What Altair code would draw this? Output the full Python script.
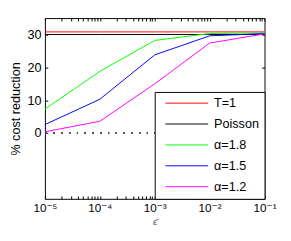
import altair as alt
import pandas as pd

eps = [1e-5, 1e-4, 1e-3, 1e-2, 1e-1]
series = ["T=1", "Poisson", "α=1.8", "α=1.5", "α=1.2"]
colors = ["#ff0000", "#000000", "#00ff00", "#0000ff", "#ff00ff"]
t1 = [30.8, 30.8, 30.8, 30.8, 30.8]
poisson = [30.0, 30.0, 30.0, 30.0, 30.0]
a18 = [7.3, 18.8, 28.2, 30.3, 30.5]
a15 = [2.6, 10.3, 23.8, 29.6, 30.3]
a12 = [0.4, 3.6, 15.0, 27.4, 30.2]
y_ticks = [0, 10, 20, 30]
x_ticks = [m * d for d in [1e-5, 1e-4, 1e-3, 1e-2] for m in range(1, 10)] + [1e-1]
x_labels = {1e-5: "10⁻⁵", 1e-4: "10⁻⁴", 1e-3: "10⁻³", 1e-2: "10⁻²", 1e-1: "10⁻¹"}

rows = []
for name, vals in zip(series, [t1, poisson, a18, a15, a12]):
    for x, v in zip(eps, vals):
        rows.append({"eps": x, "val": v, "series": name})
df = pd.DataFrame(rows)

label_expr = " : ".join(
    f"datum.value == {k!r} ? '{v}'" for k, v in x_labels.items()
) + " : ''"

FONT = "Liberation Sans, DejaVu Sans"

xscale = alt.Scale(type="log", domain=[1e-5, 1e-1], nice=False)
yscale = alt.Scale(domain=[-20, 35], nice=False, zero=False)

lines = alt.Chart(df).mark_line(strokeWidth=1).encode(
    x=alt.X("eps:Q", scale=xscale,
            axis=alt.Axis(orient="bottom", values=x_ticks, labelExpr=label_expr,
                          domain=False, grid=False, tickSize=3, offset=-3,
                          labelPadding=4, labelFlush=False, labelOverlap=False,
                          labelFontSize=12, labelFont=FONT, tickColor="black",
                          labelColor="black", title="ε̄", titleFontSize=10,
                          titleFontWeight="normal", titleColor="#555555",
                          titleFont=FONT, titlePadding=3)),
    y=alt.Y("val:Q", scale=yscale,
            axis=alt.Axis(orient="left", values=y_ticks, domain=False, grid=False,
                          tickSize=3, offset=-3, labelPadding=4, labelFontSize=13,
                          labelFont=FONT, labelColor="black", tickColor="black",
                          title="% cost reduction", titleFontSize=13,
                          titleFontWeight="normal", titleFont=FONT,
                          titleColor="black", titlePadding=5)),
    color=alt.Color("series:N", sort=series,
                    scale=alt.Scale(domain=series, range=colors),
                    legend=alt.Legend(title=None, orient="bottom-right", offset=0,
                                      symbolType="M-1,0H7", symbolSize=121,
                                      symbolStrokeWidth=1, symbolOffset=5,
                                      labelFontSize=13,
                                      labelFont=FONT, labelColor="black",
                                      strokeColor="black", fillColor="white",
                                      padding=5, rowPadding=7.5, labelOffset=38)),
)

frame = alt.Chart(df).mark_point(opacity=0).encode(
    x=alt.X("eps:Q", scale=xscale,
            axis=alt.Axis(orient="top", values=x_ticks, labels=False, domain=False,
                          grid=False, tickSize=3, offset=-3, title=None,
                          tickColor="black")),
    y=alt.Y("val:Q", scale=yscale,
            axis=alt.Axis(orient="right", values=y_ticks, labels=False, domain=False,
                          grid=False, tickSize=3, offset=-3, title=None,
                          tickColor="black")),
)

zero = alt.Chart(df).mark_rule(color="#555555", strokeDash=[1, 7], strokeWidth=1).encode(
    y=alt.YDatum(0, scale=yscale, axis=None)
)

chart = alt.layer(zero, frame, lines).resolve_axis(
    x="independent", y="independent"
).properties(
    width=226, height=186,
    autosize=alt.AutoSizeParams(type="none"),
    padding={"left": 38, "top": 7, "right": 19, "bottom": 40},
).configure_view(stroke="black", strokeWidth=1)

chart.save("out.html", embed_options={"renderer": "svg", "actions": False})
